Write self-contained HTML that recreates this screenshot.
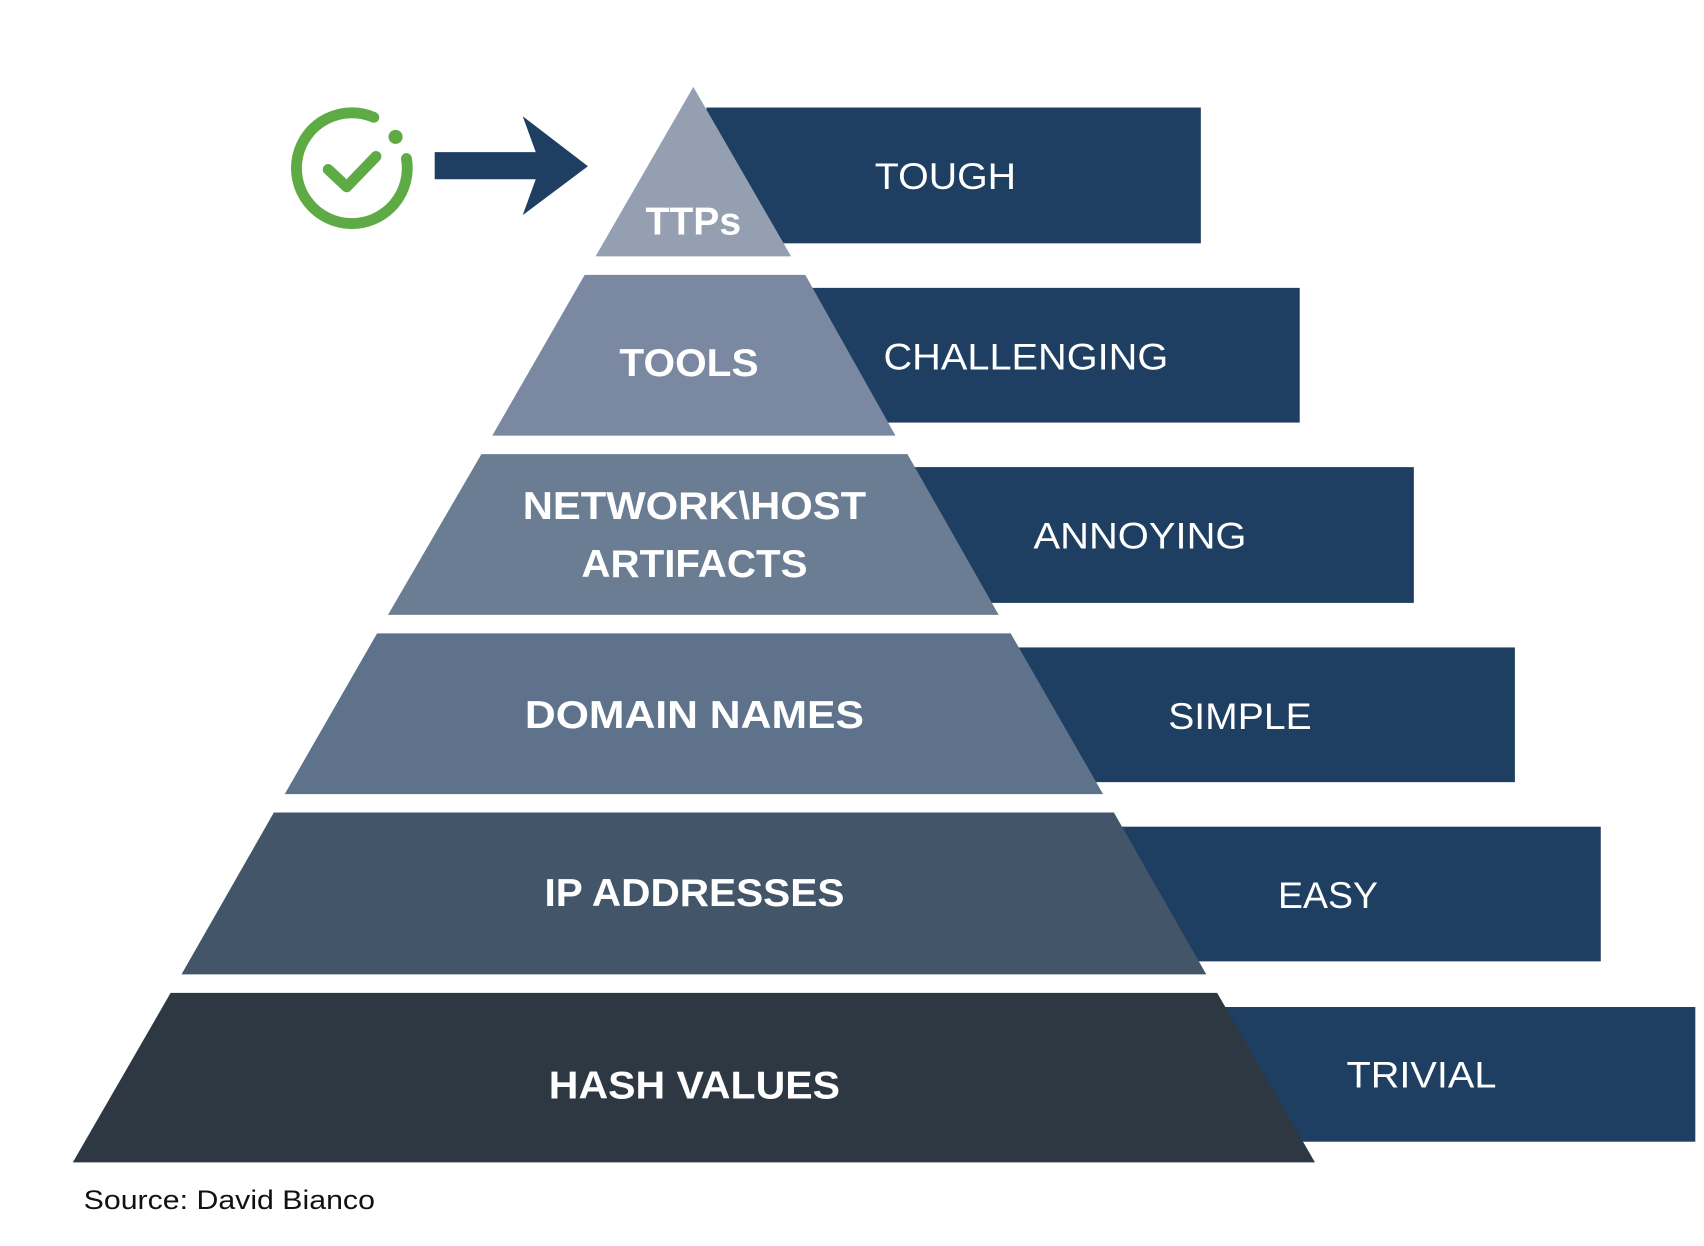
<!DOCTYPE html>
<html><head><meta charset="utf-8"><style>html,body{margin:0;padding:0;background:#fff;}svg{display:block;}</style></head>
<body>
<svg width="1704" height="1246" viewBox="0 0 1568 1147" preserveAspectRatio="none" xmlns="http://www.w3.org/2000/svg">
<rect width="1568" height="1147" fill="#fff"/>
<g fill="#1e3f62">
<rect x="650" y="99" width="455" height="125"/>
<rect x="745" y="265" width="451" height="124"/>
<rect x="840" y="430" width="461" height="125"/>
<rect x="935" y="596" width="459" height="124"/>
<rect x="1030" y="761" width="443" height="124"/>
<rect x="1125" y="927" width="435" height="124"/>
</g>
<polygon points="638,80 728,236 548,236" fill="#949fb1"/>
<polygon points="538,253 741,253 824,401 453,401" fill="#7a89a1"/>
<polygon points="443,418 835,418 919,566 357,566" fill="#6b7d93"/>
<polygon points="347,583 930,583 1015,731 262,731" fill="#5e738b"/>
<polygon points="252,748 1025,748 1110,897 167,897" fill="#435568"/>
<polygon points="157,914 1120,914 1210,1070 67,1070" fill="#2d3843"/>
<g font-family="Liberation Sans, sans-serif" font-weight="bold" fill="#fff" font-size="36" text-anchor="middle">
<text x="638" y="216" textLength="88" lengthAdjust="spacingAndGlyphs">TTPs</text>
<text x="634" y="346" textLength="128" lengthAdjust="spacingAndGlyphs">TOOLS</text>
<text x="639" y="478" textLength="316" lengthAdjust="spacingAndGlyphs">NETWORK\HOST</text>
<text x="639" y="531" textLength="208" lengthAdjust="spacingAndGlyphs">ARTIFACTS</text>
<text x="639" y="670" textLength="312" lengthAdjust="spacingAndGlyphs">DOMAIN NAMES</text>
<text x="639" y="834" textLength="276" lengthAdjust="spacingAndGlyphs">IP ADDRESSES</text>
<text x="639" y="1011" textLength="268" lengthAdjust="spacingAndGlyphs">HASH VALUES</text>
</g>
<g font-family="Liberation Sans, sans-serif" fill="#fff" font-size="34" text-anchor="middle">
<text x="870" y="174" textLength="130" lengthAdjust="spacingAndGlyphs">TOUGH</text>
<text x="944" y="340" textLength="262" lengthAdjust="spacingAndGlyphs">CHALLENGING</text>
<text x="1049" y="505" textLength="196" lengthAdjust="spacingAndGlyphs">ANNOYING</text>
<text x="1141" y="671" textLength="132" lengthAdjust="spacingAndGlyphs">SIMPLE</text>
<text x="1222" y="836" textLength="92" lengthAdjust="spacingAndGlyphs">EASY</text>
<text x="1308" y="1001" textLength="138" lengthAdjust="spacingAndGlyphs">TRIVIAL</text>
</g>
<text x="77" y="1113" font-family="Liberation Sans, sans-serif" font-size="25" fill="#111" textLength="268" lengthAdjust="spacingAndGlyphs">Source: David Bianco</text>
<polygon points="400,140 493,140 481,107 541,153 481,198 493,165 400,165" fill="#1e3f62"/>
<g stroke="#5eab46" stroke-width="10" fill="none" stroke-linecap="round" stroke-linejoin="round">
<path d="M344,108 A51,51 0 1 0 374,146"/>
<polyline points="302,156 319,172 346,144"/>
</g>
<circle cx="364" cy="126" r="6.5" fill="#5eab46"/>
</svg>
</body></html>
